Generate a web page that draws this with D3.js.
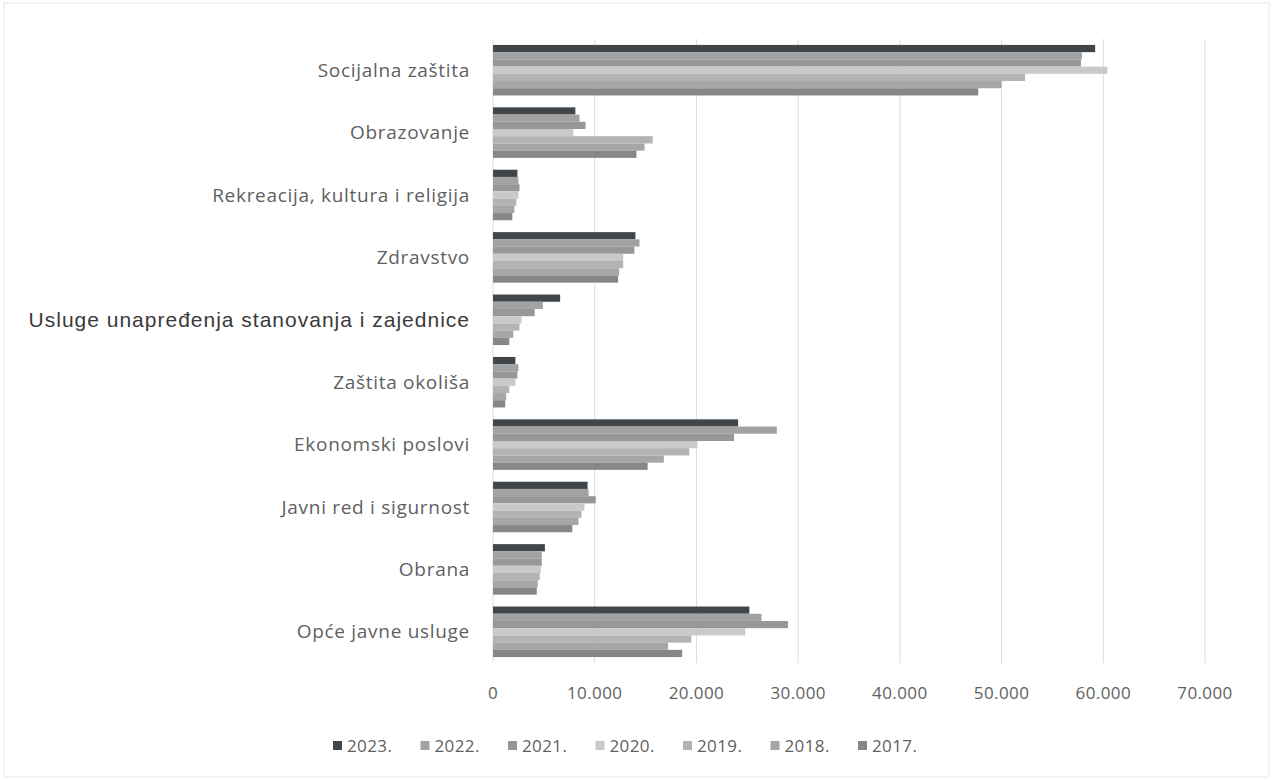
<!DOCTYPE html>
<html>
<head>
<meta charset="utf-8">
<script src="https://cdn.jsdelivr.net/npm/d3@7"></script>
<style>
  html, body { margin: 0; padding: 0; background: #fff; }
  .cat-label { font-family: "Open Sans", Lato, sans-serif; font-size: 19px; letter-spacing: 0.7px; fill: #5f5f5f; }
  .cat-label.arial { font-family: "Liberation Sans", Arial, sans-serif; font-size: 21px; letter-spacing: 1px; fill: #3a3a3a; }
  .tick-label { font-family: "Open Sans", Lato, sans-serif; font-size: 17px; letter-spacing: 0.4px; fill: #5f5f5f; }
  .legend-label { font-family: "Open Sans", Lato, sans-serif; font-size: 17px; letter-spacing: 0.4px; fill: #5f5f5f; }
</style>
</head>
<body>
<svg width="1273" height="781"></svg>
<script>
const categories = [
  "Socijalna zaštita",
  "Obrazovanje",
  "Rekreacija, kultura i religija",
  "Zdravstvo",
  "Usluge unapređenja stanovanja i zajednice",
  "Zaštita okoliša",
  "Ekonomski poslovi",
  "Javni red i sigurnost",
  "Obrana",
  "Opće javne usluge"
];

const years = ["2023.", "2022.", "2021.", "2020.", "2019.", "2018.", "2017."];

const values2023 = [59200, 8100, 2400, 14000, 6600, 2200, 24100, 9300, 5100, 25200];
const values2022 = [57900, 8500, 2500, 14400, 4900, 2500, 27900, 9400, 4800, 26400];
const values2021 = [57800, 9100, 2600, 13900, 4100, 2400, 23700, 10100, 4800, 29000];
const values2020 = [60400, 7900, 2500, 12800, 2800, 2200, 20100, 9000, 4700, 24800];
const values2019 = [52300, 15700, 2300, 12800, 2600, 1600, 19300, 8700, 4600, 19500];
const values2018 = [50000, 14900, 2100, 12400, 2000, 1300, 16800, 8400, 4400, 17200];
const values2017 = [47700, 14100, 1900, 12300, 1600, 1200, 15200, 7800, 4300, 18600];

const xTicks = [0, 10000, 20000, 30000, 40000, 50000, 60000, 70000];

const seriesValues = [values2023, values2022, values2021, values2020, values2019, values2018, values2017];
const seriesColors = ["#41464a", "#a2a2a2", "#979797", "#c9c9c9", "#b3b3b3", "#a6a6a6", "#878787"];

const svg = d3.select("svg"),
      margin = {top: 39, right: 68, bottom: 118, left: 493},
      width = +svg.attr("width") - margin.left - margin.right,
      height = +svg.attr("height") - margin.top - margin.bottom;

// faint outer frame of the scanned chart
svg.append("rect")
  .attr("x", 4).attr("y", 3)
  .attr("width", 1265).attr("height", 774)
  .attr("fill", "none")
  .attr("stroke", "#e8e8e8");

const g = svg.append("g").attr("transform", `translate(${margin.left},${margin.top})`);

const x = d3.scaleLinear().domain([0, 70000]).range([0, width]);
const y = d3.scaleBand().domain(categories).range([0, height]).paddingInner(0.19).paddingOuter(0.095);
const ySub = d3.scaleBand().domain(years).range([0, y.bandwidth()]);
const color = d3.scaleOrdinal().domain(years).range(seriesColors);

const locale = d3.formatLocale({decimal: ",", thousands: ".", grouping: [3], currency: ["", ""]});
const fmt = locale.format(",");

// gridlines
g.selectAll(".grid")
  .data(xTicks)
  .join("line")
  .attr("class", "grid")
  .attr("x1", d => x(d)).attr("x2", d => x(d))
  .attr("y1", 0).attr("y2", height)
  .attr("stroke", "#dcdcdc")
  .attr("stroke-width", 1);

// bars
const rows = years.map((yr, i) => categories.map((c, j) => ({year: yr, cat: c, value: seriesValues[i][j]})));

g.selectAll(".series")
  .data(rows)
  .join("g")
  .attr("class", "series")
  .attr("fill", (d, i) => color(years[i]))
  .selectAll("rect")
  .data(d => d)
  .join("rect")
  .attr("x", x(0))
  .attr("y", d => y(d.cat) + ySub(d.year))
  .attr("width", d => x(d.value) - x(0))
  .attr("height", ySub.bandwidth());

// category labels
g.selectAll(".cat-label")
  .data(categories)
  .join("text")
  .attr("class", (d, i) => i === 4 ? "cat-label arial" : "cat-label")
  .attr("x", -23)
  .attr("y", d => y(d) + y.bandwidth() / 2)
  .attr("dy", "0.35em")
  .attr("text-anchor", "end")
  .text(d => d);

// x tick labels
g.selectAll(".tick-label")
  .data(xTicks)
  .join("text")
  .attr("class", "tick-label")
  .attr("x", d => x(d))
  .attr("y", height + 30)
  .attr("dy", "0.35em")
  .attr("text-anchor", "middle")
  .text(d => fmt(d));

// legend
const legend = svg.append("g").attr("transform", "translate(333,746)");
const item = legend.selectAll(".legend-item")
  .data(years)
  .join("g")
  .attr("class", "legend-item")
  .attr("transform", (d, i) => `translate(${i * 87.5},0)`);

item.append("rect")
  .attr("x", 0).attr("y", -5)
  .attr("width", 9).attr("height", 9)
  .attr("fill", d => color(d));

item.append("text")
  .attr("class", "legend-label")
  .attr("x", 14)
  .attr("y", 0)
  .attr("dy", "0.35em")
  .text(d => d);
</script>
</body>
</html>
